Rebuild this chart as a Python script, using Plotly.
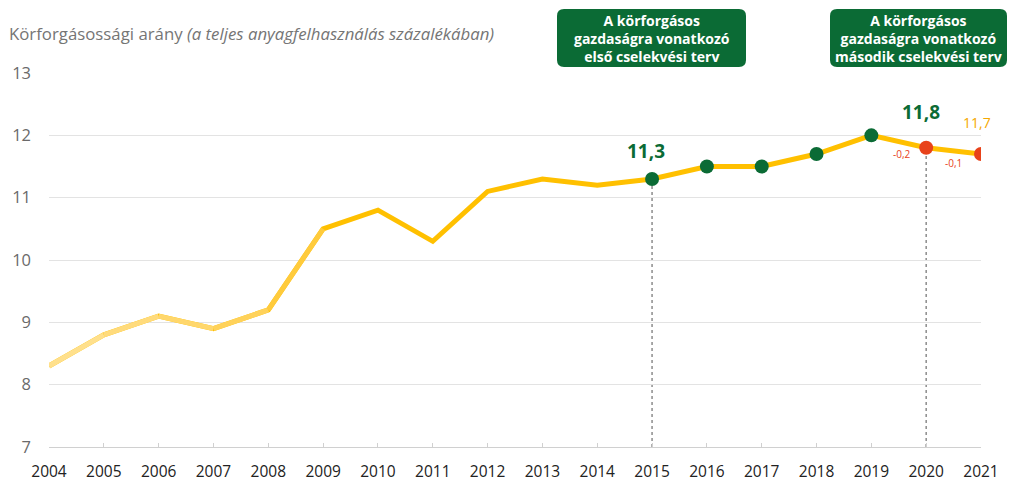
import plotly.graph_objects as go

# data
years = list(range(2004, 2022))
values = [8.3, 8.8, 9.1, 8.9, 9.2, 10.5, 10.8, 10.3, 11.1, 11.3, 11.2,
          11.3, 11.5, 11.5, 11.7, 12.0, 11.8, 11.7]
green_years = [2015, 2016, 2017, 2018, 2019]
green_vals = [11.3, 11.5, 11.5, 11.7, 12.0]
red_years = [2020, 2021]
red_vals = [11.8, 11.7]
plan_years = [2015, 2020]
plan_vals = [11.3, 11.8]
y_ticks = [7, 8, 9, 10, 11, 12, 13]

GOLD = "#FFC000"
GREEN = "#0B6B35"
RED = "#E8421A"
ORANGE = "#F5A800"
# fade of the early segments (2004-2009)
fade = ["#FFE08C", "#FFDB7C", "#FFD76C", "#FFD25A", "#FFCB3C"]

fig = go.Figure()

fig.add_trace(go.Scatter(x=years, y=values, mode="lines",
                         line=dict(color=GOLD, width=5), hoverinfo="skip"))
for i, c in enumerate(fade):
    fig.add_trace(go.Scatter(x=years[i:i + 2], y=values[i:i + 2], mode="lines",
                             line=dict(color=c, width=5), hoverinfo="skip"))

fig.add_trace(go.Scatter(x=green_years, y=green_vals, mode="markers",
                         marker=dict(color=GREEN, size=14)))
fig.add_trace(go.Scatter(x=red_years, y=red_vals, mode="markers",
                         marker=dict(color=RED, size=14)))

# dotted markers of the action plans
for yr, v in zip(plan_years, plan_vals):
    fig.add_shape(type="line", x0=yr, x1=yr, y0=7, y1=v, layer="below",
                  line=dict(color="#8C8C8C", width=1.5, dash="dot"))

annots = [
    dict(x=2015, y=11.3, text="<b>11,3</b>", yshift=28, xshift=-6,
         font=dict(size=19, color=GREEN)),
    dict(x=2019.9, y=12.0, text="<b>11,8</b>", yshift=23,
         font=dict(size=19, color=GREEN)),
    dict(x=2021, y=11.7, text="11,7", yshift=32, xshift=-4,
         font=dict(size=14, color=ORANGE)),
    dict(x=2020, y=11.8, text="-0,2", yshift=-6, xshift=-24,
         font=dict(size=10, color=RED)),
    dict(x=2020.5, y=11.75, text="-0,1", yshift=-12,
         font=dict(size=10, color=RED)),
]
for a in annots:
    fig.add_annotation(showarrow=False, font_family="Open Sans", **a)

fig.add_annotation(xref="paper", yref="paper", x=-0.0455, y=(447 - 33) / 374,
                   xanchor="left", yanchor="middle", showarrow=False,
                   text="Körforgásossági arány <i>(a teljes anyagfelhasználás százalékában)</i>",
                   font=dict(family="Open Sans", size=16.8, color="#757575"))


def rounded_box(x0, x1, y0, y1, r=7):
    W, H = 932, 374
    px = lambda v: (v - 49) / W
    py = lambda v: (447 - v) / H
    rx, ry = r / W, r / H
    X0, X1, Y0, Y1 = px(x0), px(x1), py(y1), py(y0)
    return (f"M {X0+rx},{Y0} L {X1-rx},{Y0} Q {X1},{Y0} {X1},{Y0+ry} "
            f"L {X1},{Y1-ry} Q {X1},{Y1} {X1-rx},{Y1} L {X0+rx},{Y1} "
            f"Q {X0},{Y1} {X0},{Y1-ry} L {X0},{Y0+ry} Q {X0},{Y0} {X0+rx},{Y0} Z")


boxes = [
    (557, 746, "A körforgásos<br>gazdaságra vonatkozó<br>első cselekvési terv"),
    (830, 1007, "A körforgásos<br>gazdaságra vonatkozó<br>második cselekvési terv"),
]
for bx0, bx1, txt in boxes:
    fig.add_shape(type="path", xref="paper", yref="paper",
                  path=rounded_box(bx0, bx1, 9, 67), fillcolor="#0B6B35",
                  line=dict(width=0))
    fig.add_annotation(xref="paper", yref="paper", x=((bx0 + bx1) / 2 - 49) / 932,
                       y=(447 - 38) / 374, showarrow=False, xanchor="center",
                       yanchor="middle", text=f"<b>{txt}</b>",
                       font=dict(family="Open Sans", size=14, color="white"))

fig.update_layout(
    width=1019, height=483,
    margin=dict(l=41, r=46, t=65, b=44),
    paper_bgcolor="white", plot_bgcolor="white",
    showlegend=False,
)
fig.update_xaxes(range=[2004, 2021], tickvals=years, showgrid=False,
                 automargin=False,
                 showline=True, linecolor="#D0D0D0", linewidth=1,
                 ticks="inside", ticklen=4, tickcolor="#D0D0D0",
                 ticklabelstandoff=10,
                 tickfont=dict(family="Open Sans", size=15.5, color="#222222"),
                 zeroline=False)
fig.update_yaxes(range=[7, 13], tickvals=y_ticks, showgrid=True,
                 automargin=False,
                 gridcolor="#E3E3E3", gridwidth=1, zeroline=False,
                 ticklabelstandoff=17,
                 tickfont=dict(family="Open Sans", size=16.5, color="#6A6A6A"))

fig.write_html("out.html")
